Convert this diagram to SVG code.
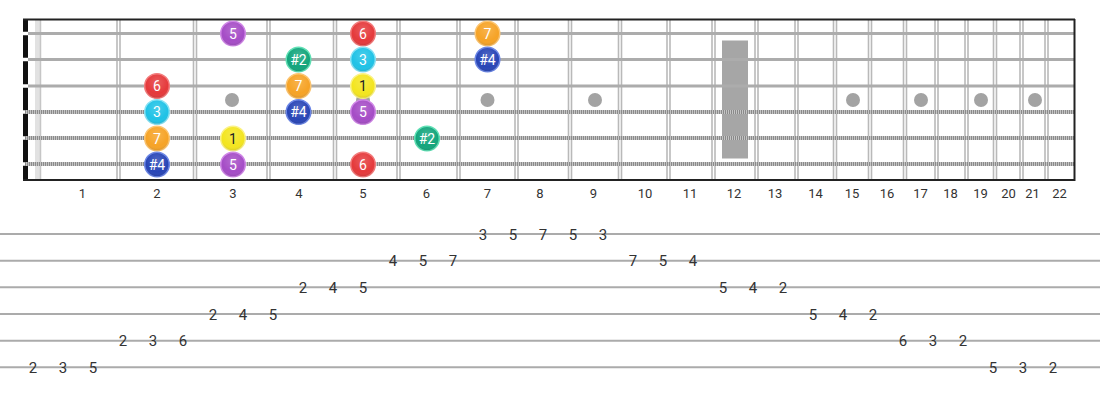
<svg xmlns="http://www.w3.org/2000/svg" width="1100" height="400" viewBox="0 0 1100 400">
<defs>
<radialGradient id="gloss" cx="50%" cy="35%" r="65%">
<stop offset="0" stop-color="#fff" stop-opacity="0.18"/>
<stop offset="0.7" stop-color="#fff" stop-opacity="0"/>
<stop offset="1" stop-color="#000" stop-opacity="0.12"/>
</radialGradient>
</defs>
<style>
.fret{stroke:#b9b9b9;stroke-width:1.6}
.plain{stroke:#acacac;stroke-width:2.8}
.woundB{stroke:#c4c4c4;stroke-width:4}
.woundD{stroke:#8a8a8a;stroke-width:4;stroke-dasharray:1 1}
.gap{stroke:#fff;stroke-width:3.5}
.inlay{fill:#a3a3a3}
.fn{font-family:Roboto,"Liberation Sans",sans-serif;font-size:13px;fill:#333;text-anchor:middle}
.tl{stroke:#ababab;stroke-width:2}
.tn{font-family:Roboto,"Liberation Sans",sans-serif;font-size:15px;fill:#333;text-anchor:middle}
.nt{font-family:Roboto,"Liberation Sans",sans-serif;font-size:14px;fill:#fff;text-anchor:middle}
.ny{fill:#222}
.gl{fill:url(#gloss)}
.red{fill:#e5393b;stroke:#f27a7a;stroke-width:1.5}
.pur{fill:#a54cc6;stroke:#cf86e6;stroke-width:1.5}
.ora{fill:#f6a326;stroke:#fcc46f;stroke-width:1.5}
.grn{fill:#13a57c;stroke:#5ee0b4;stroke-width:1.5}
.cya{fill:#1fc2e6;stroke:#86e2f4;stroke-width:1.5}
.blu{fill:#2845b6;stroke:#6b86e6;stroke-width:1.5}
.yel{fill:#f3e51f;stroke:#fbf285;stroke-width:1.5}
</style>
<rect width="1100" height="400" fill="#fff"/>
<g id="fretboard">
<rect x="35" y="20" width="6" height="160" fill="#e2e2e2"/>
<line x1="40.5" y1="20" x2="40.5" y2="180" stroke="#c6c6c6" stroke-width="1.5"/>
<g id="frets">
<line class="fret" x1="117" y1="20" x2="117" y2="180"/><line class="fret" x1="120" y1="20" x2="120" y2="180"/>
<line class="fret" x1="193.5" y1="20" x2="193.5" y2="180"/><line class="fret" x1="196.5" y1="20" x2="196.5" y2="180"/>
<line class="fret" x1="267" y1="20" x2="267" y2="180"/><line class="fret" x1="270" y1="20" x2="270" y2="180"/>
<line class="fret" x1="333.5" y1="20" x2="333.5" y2="180"/><line class="fret" x1="336.5" y1="20" x2="336.5" y2="180"/>
<line class="fret" x1="397" y1="20" x2="397" y2="180"/><line class="fret" x1="400" y1="20" x2="400" y2="180"/>
<line class="fret" x1="457" y1="20" x2="457" y2="180"/><line class="fret" x1="460" y1="20" x2="460" y2="180"/>
<line class="fret" x1="515" y1="20" x2="515" y2="180"/><line class="fret" x1="518" y1="20" x2="518" y2="180"/>
<line class="fret" x1="568.5" y1="20" x2="568.5" y2="180"/><line class="fret" x1="571.5" y1="20" x2="571.5" y2="180"/>
<line class="fret" x1="618.5" y1="20" x2="618.5" y2="180"/><line class="fret" x1="621.5" y1="20" x2="621.5" y2="180"/>
<line class="fret" x1="667" y1="20" x2="667" y2="180"/><line class="fret" x1="670" y1="20" x2="670" y2="180"/>
<line class="fret" x1="712" y1="20" x2="712" y2="180"/><line class="fret" x1="715" y1="20" x2="715" y2="180"/>
<line class="fret" x1="755" y1="20" x2="755" y2="180"/><line class="fret" x1="758" y1="20" x2="758" y2="180"/>
<line class="fret" x1="795" y1="20" x2="795" y2="180"/><line class="fret" x1="798" y1="20" x2="798" y2="180"/>
<line class="fret" x1="833.5" y1="20" x2="833.5" y2="180"/><line class="fret" x1="836.5" y1="20" x2="836.5" y2="180"/>
<line class="fret" x1="868.5" y1="20" x2="868.5" y2="180"/><line class="fret" x1="871.5" y1="20" x2="871.5" y2="180"/>
<line class="fret" x1="903.5" y1="20" x2="903.5" y2="180"/><line class="fret" x1="906.5" y1="20" x2="906.5" y2="180"/>
<line class="fret" x1="935" y1="20" x2="935" y2="180"/><line class="fret" x1="938" y1="20" x2="938" y2="180"/>
<line class="fret" x1="965" y1="20" x2="965" y2="180"/><line class="fret" x1="968" y1="20" x2="968" y2="180"/>
<line class="fret" x1="993.5" y1="20" x2="993.5" y2="180"/><line class="fret" x1="996.5" y1="20" x2="996.5" y2="180"/>
<line class="fret" x1="1020" y1="20" x2="1020" y2="180"/><line class="fret" x1="1023" y1="20" x2="1023" y2="180"/>
<line class="fret" x1="1045" y1="20" x2="1045" y2="180"/><line class="fret" x1="1048" y1="20" x2="1048" y2="180"/>
</g>
<g id="inlays">
<circle class="inlay" cx="232" cy="100" r="7"/>
<circle class="inlay" cx="363" cy="100" r="7"/>
<circle class="inlay" cx="487.5" cy="100" r="7"/>
<circle class="inlay" cx="595" cy="100" r="7"/>
<rect x="722" y="40.5" width="26" height="118" fill="#a6a6a6"/>
<circle class="inlay" cx="853" cy="100" r="7"/>
<circle class="inlay" cx="921" cy="100" r="7"/>
<circle class="inlay" cx="981" cy="100" r="7"/>
<circle class="inlay" cx="1035" cy="100" r="7"/>
</g>
<g id="nut">
<rect x="23" y="19" width="5" height="162" fill="#111"/>
<line class="gap" x1="23" y1="33.5" x2="28" y2="33.5"/>
<line class="gap" x1="23" y1="59.5" x2="28" y2="59.5"/>
<line class="gap" x1="23" y1="86" x2="28" y2="86"/>
<line class="gap" x1="23" y1="112" x2="28" y2="112"/>
<line class="gap" x1="23" y1="138" x2="28" y2="138"/>
<line class="gap" x1="23" y1="164" x2="28" y2="164"/>
</g>
<g id="strings">
<line class="plain" x1="28" y1="33.5" x2="1075" y2="33.5"/>
<line class="plain" x1="28" y1="59.5" x2="1075" y2="59.5"/>
<line class="plain" x1="28" y1="86" x2="1075" y2="86"/>
<line class="woundB" x1="25" y1="112" x2="1075" y2="112"/><line class="woundD" x1="25" y1="112" x2="1075" y2="112"/>
<line class="woundB" x1="25" y1="138" x2="1075" y2="138"/><line class="woundD" x1="25" y1="138" x2="1075" y2="138"/>
<line class="woundB" x1="25" y1="164" x2="1075" y2="164"/><line class="woundD" x1="25" y1="164" x2="1075" y2="164"/>
</g>
<line x1="23" y1="19.5" x2="1075" y2="19.5" stroke="#222" stroke-width="2"/>
<line x1="23" y1="180" x2="1075" y2="180" stroke="#222" stroke-width="2"/>
<line x1="1074.5" y1="19" x2="1074.5" y2="181" stroke="#222" stroke-width="2"/>
</g>
<g id="fret-numbers">
<text class="fn" x="82.5" y="198">1</text>
<text class="fn" x="157" y="198">2</text>
<text class="fn" x="233" y="198">3</text>
<text class="fn" x="299" y="198">4</text>
<text class="fn" x="363" y="198">5</text>
<text class="fn" x="426.5" y="198">6</text>
<text class="fn" x="487.5" y="198">7</text>
<text class="fn" x="540" y="198">8</text>
<text class="fn" x="593.5" y="198">9</text>
<text class="fn" x="645" y="198">10</text>
<text class="fn" x="690" y="198">11</text>
<text class="fn" x="734" y="198">12</text>
<text class="fn" x="775" y="198">13</text>
<text class="fn" x="815.5" y="198">14</text>
<text class="fn" x="852" y="198">15</text>
<text class="fn" x="887" y="198">16</text>
<text class="fn" x="920.5" y="198">17</text>
<text class="fn" x="950.5" y="198">18</text>
<text class="fn" x="980.5" y="198">19</text>
<text class="fn" x="1008.5" y="198">20</text>
<text class="fn" x="1032.5" y="198">21</text>
<text class="fn" x="1059.5" y="198">22</text>
</g>
<g id="notes">
<g id="n1"><circle class="pur" cx="233" cy="33.5" r="12.3"/><circle class="gl" cx="233" cy="33.5" r="12.3"/><text class="nt" x="233" y="38.5">5</text></g>
<g id="n2"><circle class="red" cx="363" cy="33.5" r="12.3"/><circle class="gl" cx="363" cy="33.5" r="12.3"/><text class="nt" x="363" y="38.5">6</text></g>
<g id="n3"><circle class="ora" cx="487.5" cy="33.5" r="12.3"/><circle class="gl" cx="487.5" cy="33.5" r="12.3"/><text class="nt" x="487.5" y="38.5">7</text></g>
<g id="n4"><circle class="grn" cx="298.5" cy="59.5" r="12.3"/><circle class="gl" cx="298.5" cy="59.5" r="12.3"/><text class="nt" x="298.5" y="64.5">#2</text></g>
<g id="n5"><circle class="cya" cx="363" cy="59.5" r="12.3"/><circle class="gl" cx="363" cy="59.5" r="12.3"/><text class="nt" x="363" y="64.5">3</text></g>
<g id="n6"><circle class="blu" cx="487.5" cy="59.5" r="12.3"/><circle class="gl" cx="487.5" cy="59.5" r="12.3"/><text class="nt" x="487.5" y="64.5">#4</text></g>
<g id="n7"><circle class="red" cx="157" cy="86" r="12.3"/><circle class="gl" cx="157" cy="86" r="12.3"/><text class="nt" x="157" y="91">6</text></g>
<g id="n8"><circle class="ora" cx="298.5" cy="86" r="12.3"/><circle class="gl" cx="298.5" cy="86" r="12.3"/><text class="nt" x="298.5" y="91">7</text></g>
<g id="n9"><circle class="yel" cx="363" cy="86" r="12.3"/><circle class="gl" cx="363" cy="86" r="12.3"/><text class="nt ny" x="363" y="91">1</text></g>
<g id="n10"><circle class="cya" cx="157" cy="112" r="12.3"/><circle class="gl" cx="157" cy="112" r="12.3"/><text class="nt" x="157" y="117">3</text></g>
<g id="n11"><circle class="blu" cx="298.5" cy="112" r="12.3"/><circle class="gl" cx="298.5" cy="112" r="12.3"/><text class="nt" x="298.5" y="117">#4</text></g>
<g id="n12"><circle class="pur" cx="363" cy="112" r="12.3"/><circle class="gl" cx="363" cy="112" r="12.3"/><text class="nt" x="363" y="117">5</text></g>
<g id="n13"><circle class="ora" cx="157" cy="138.5" r="12.3"/><circle class="gl" cx="157" cy="138.5" r="12.3"/><text class="nt" x="157" y="143.5">7</text></g>
<g id="n14"><circle class="yel" cx="233" cy="138.5" r="12.3"/><circle class="gl" cx="233" cy="138.5" r="12.3"/><text class="nt ny" x="233" y="143.5">1</text></g>
<g id="n15"><circle class="grn" cx="427" cy="138.5" r="12.3"/><circle class="gl" cx="427" cy="138.5" r="12.3"/><text class="nt" x="427" y="143.5">#2</text></g>
<g id="n16"><circle class="blu" cx="157" cy="164.5" r="12.3"/><circle class="gl" cx="157" cy="164.5" r="12.3"/><text class="nt" x="157" y="169.5">#4</text></g>
<g id="n17"><circle class="pur" cx="233" cy="164.5" r="12.3"/><circle class="gl" cx="233" cy="164.5" r="12.3"/><text class="nt" x="233" y="169.5">5</text></g>
<g id="n18"><circle class="red" cx="363" cy="164.5" r="12.3"/><circle class="gl" cx="363" cy="164.5" r="12.3"/><text class="nt" x="363" y="169.5">6</text></g>
</g>
<g id="tab">
<line class="tl" x1="0" y1="234" x2="1100" y2="234"/>
<line class="tl" x1="0" y1="260.7" x2="1100" y2="260.7"/>
<line class="tl" x1="0" y1="287.3" x2="1100" y2="287.3"/>
<line class="tl" x1="0" y1="314" x2="1100" y2="314"/>
<line class="tl" x1="0" y1="340.7" x2="1100" y2="340.7"/>
<line class="tl" x1="0" y1="367.3" x2="1100" y2="367.3"/>
<g id="tab-numbers">
<text class="tn" x="33" y="373">2</text><text class="tn" x="63" y="373">3</text><text class="tn" x="93" y="373">5</text>
<text class="tn" x="123" y="346.3">2</text><text class="tn" x="153" y="346.3">3</text><text class="tn" x="183" y="346.3">6</text>
<text class="tn" x="213" y="319.6">2</text><text class="tn" x="243" y="319.6">4</text><text class="tn" x="273" y="319.6">5</text>
<text class="tn" x="303" y="293">2</text><text class="tn" x="333" y="293">4</text><text class="tn" x="363" y="293">5</text>
<text class="tn" x="393" y="266.3">4</text><text class="tn" x="423" y="266.3">5</text><text class="tn" x="453" y="266.3">7</text>
<text class="tn" x="483" y="239.6">3</text><text class="tn" x="513" y="239.6">5</text><text class="tn" x="543" y="239.6">7</text><text class="tn" x="573" y="239.6">5</text><text class="tn" x="603" y="239.6">3</text>
<text class="tn" x="633" y="266.3">7</text><text class="tn" x="663" y="266.3">5</text><text class="tn" x="693" y="266.3">4</text>
<text class="tn" x="723" y="293">5</text><text class="tn" x="753" y="293">4</text><text class="tn" x="783" y="293">2</text>
<text class="tn" x="813" y="319.6">5</text><text class="tn" x="843" y="319.6">4</text><text class="tn" x="873" y="319.6">2</text>
<text class="tn" x="903" y="346.3">6</text><text class="tn" x="933" y="346.3">3</text><text class="tn" x="963" y="346.3">2</text>
<text class="tn" x="993" y="373">5</text><text class="tn" x="1023" y="373">3</text><text class="tn" x="1053" y="373">2</text>
</g>
</g>
</svg>
